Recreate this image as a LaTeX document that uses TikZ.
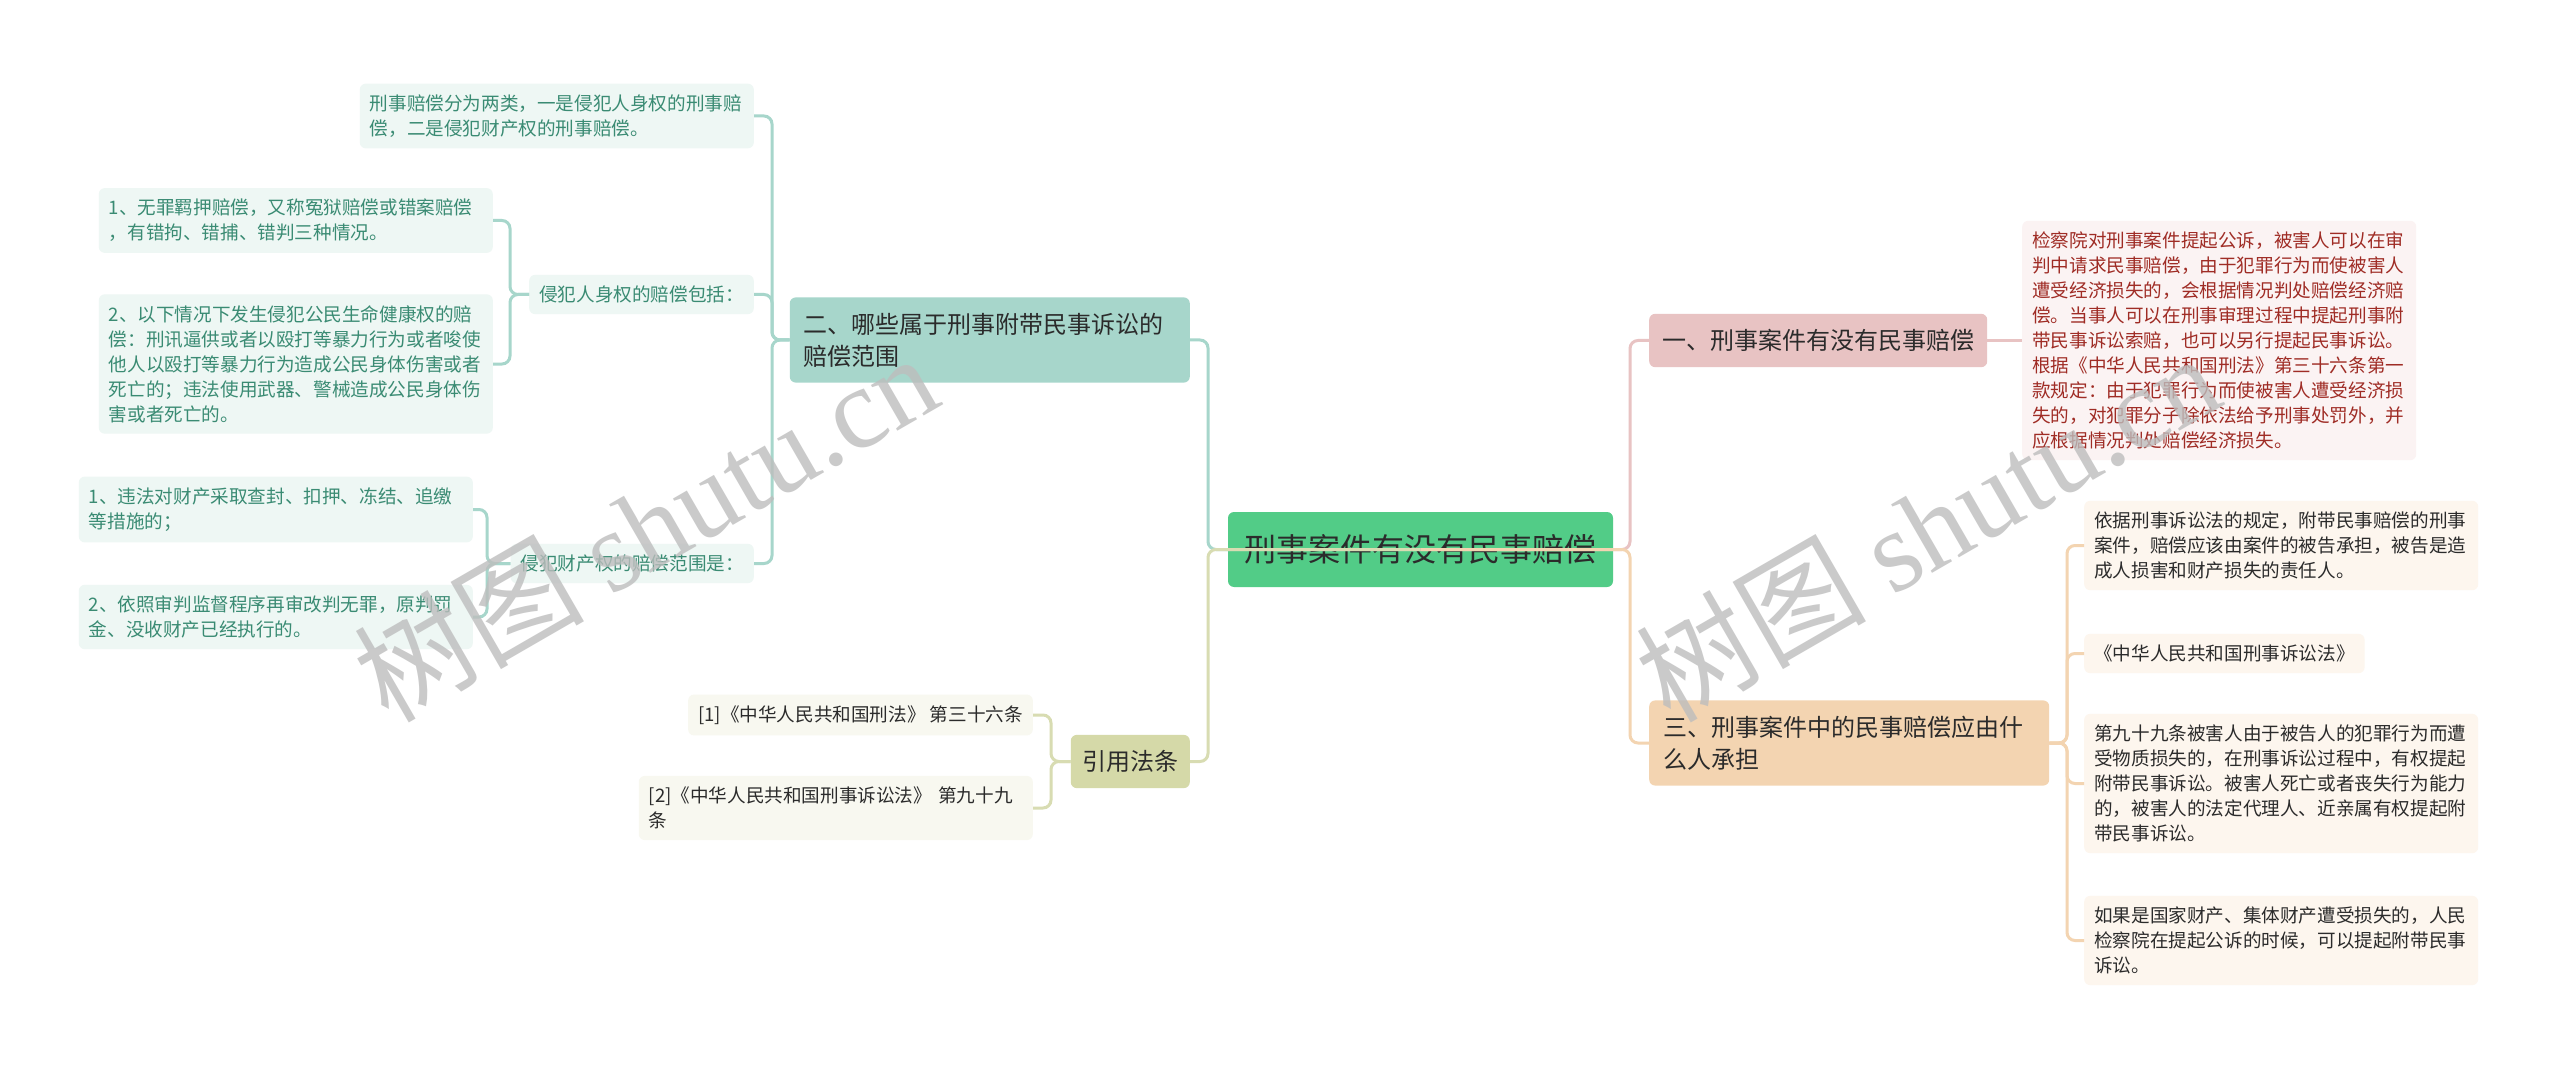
\documentclass[tikz,border=0pt]{standalone}
\usepackage{fontspec}
\setmainfont{Noto Sans CJK SC}
\newfontfamily\wmfont{Liberation Serif}
\usetikzlibrary{positioning}
\definecolor{rootfill}{HTML}{52CC87}
\definecolor{tealfill}{HTML}{A7D6CB}
\definecolor{tealleaf}{HTML}{EEF7F4}
\definecolor{tealtext}{HTML}{3A8B73}
\definecolor{olivefill}{HTML}{D5D9A8}
\definecolor{oliveleaf}{HTML}{F8F8F0}
\definecolor{olivelink}{HTML}{D8DCB2}
\definecolor{pinkfill}{HTML}{E8C3C3}
\definecolor{pinkleaf}{HTML}{FBF3F3}
\definecolor{redtext}{HTML}{9F2C25}
\definecolor{peachfill}{HTML}{F3D4B1}
\definecolor{peachleaf}{HTML}{FDF6EE}
\definecolor{inktext}{HTML}{2B2B2B}
\definecolor{wmgray}{HTML}{BDBDBD}

\begin{document}
\begin{tikzpicture}[x=1pt,y=-1pt,
  rootbox/.style={fill=rootfill,rounded corners=6,text=inktext,font=\fontsize{32}{38}\selectfont,minimum width=385,minimum height=75,inner sep=0},
  secbox/.style={rounded corners=6,text=inktext,align=left,font=\fontsize{24}{32}\selectfont,inner xsep=14,inner ysep=15.5},
  leafbox/.style={rounded corners=6,align=left,font=\fontsize{18.6}{25}\selectfont,inner xsep=10,inner ysep=11},
  wideleaf/.style={leafbox,text width=374},
  link/.style={line width=3,rounded corners=8},
  wmark/.style={rotate=30,text=wmgray,text opacity=0.8,font=\fontsize{115}{115}\selectfont}]
  \fill[white] (0,0) rectangle (2560,1067);
  \useasboundingbox (0,0) rectangle (2560,1067);

  % centre
  \node[rootbox] (root) at (1420.5,549.5) {刑事案件有没有民事赔偿};

  % left: compensation range
  \node[secbox,fill=tealfill,anchor=east,text width=372] (two) at (1190,340) {二、哪些属于刑事附带民事诉讼的\\赔偿范围};
  \node[wideleaf,fill=tealleaf,text=tealtext,anchor=east] (lA) at (754,116) {刑事赔偿分为两类，一是侵犯人身权的刑事赔\\偿，二是侵犯财产权的刑事赔偿。};
  \node[leafbox,fill=tealleaf,text=tealtext,anchor=east] (subB) at (754,294.5) {侵犯人身权的赔偿包括：};
  \node[leafbox,fill=tealleaf,text=tealtext,anchor=east] (subC) at (754,563.5) {侵犯财产权的赔偿范围是：};
  \node[wideleaf,fill=tealleaf,text=tealtext,anchor=east] (lB1) at (493,220.5) {1、无罪羁押赔偿，又称冤狱赔偿或错案赔偿\\，有错拘、错捕、错判三种情况。};
  \node[wideleaf,fill=tealleaf,text=tealtext,anchor=east] (lB2) at (493,364) {2、以下情况下发生侵犯公民生命健康权的赔\\偿：刑讯逼供或者以殴打等暴力行为或者唆使\\他人以殴打等暴力行为造成公民身体伤害或者\\死亡的；违法使用武器、警械造成公民身体伤\\害或者死亡的。};
  \node[wideleaf,fill=tealleaf,text=tealtext,anchor=east] (lC1) at (473,509.5) {1、违法对财产采取查封、扣押、冻结、追缴\\等措施的；};
  \node[wideleaf,fill=tealleaf,text=tealtext,anchor=east] (lC2) at (473,617) {2、依照审判监督程序再审改判无罪，原判罚\\金、没收财产已经执行的。};

  % left: cited articles
  \node[secbox,fill=olivefill,anchor=east,inner xsep=11.5] (cite) at (1190,761.5) {引用法条};
  \node[leafbox,fill=oliveleaf,text=inktext,anchor=east] (r1) at (1033,715) {[1]《中华人民共和国刑法》 第三十六条};
  \node[wideleaf,fill=oliveleaf,text=inktext,anchor=east] (r2) at (1033,808) {[2]《中华人民共和国刑事诉讼法》 第九十九\\条};

  % right: is there civil compensation
  \node[secbox,fill=pinkfill,anchor=west,inner xsep=13] (one) at (1649,340.5) {一、刑事案件有没有民事赔偿};
  \node[wideleaf,fill=pinkleaf,text=redtext,anchor=west] (red) at (2022,340.5) {检察院对刑事案件提起公诉，被害人可以在审\\判中请求民事赔偿，由于犯罪行为而使被害人\\遭受经济损失的，会根据情况判处赔偿经济赔\\偿。当事人可以在刑事审理过程中提起刑事附\\带民事诉讼索赔，也可以另行提起民事诉讼。\\根据《中华人民共和国刑法》第三十六条第一\\款规定：由于犯罪行为而使被害人遭受经济损\\失的，对犯罪分子除依法给予刑事处罚外，并\\应根据情况判处赔偿经济损失。};

  % right: who bears it
  \node[secbox,fill=peachfill,anchor=west,text width=372] (three) at (1649,743) {三、刑事案件中的民事赔偿应由什\\么人承担};
  \node[wideleaf,fill=peachleaf,text=inktext,anchor=west] (rt1) at (2084,545.5) {依据刑事诉讼法的规定，附带民事赔偿的刑事\\案件，赔偿应该由案件的被告承担，被告是造\\成人损害和财产损失的责任人。};
  \node[leafbox,fill=peachleaf,text=inktext,anchor=west] (rt2) at (2084,653.5) {《中华人民共和国刑事诉讼法》};
  \node[wideleaf,fill=peachleaf,text=inktext,anchor=west] (rt3) at (2084,783.5) {第九十九条被害人由于被告人的犯罪行为而遭\\受物质损失的，在刑事诉讼过程中，有权提起\\附带民事诉讼。被害人死亡或者丧失行为能力\\的，被害人的法定代理人、近亲属有权提起附\\带民事诉讼。};
  \node[wideleaf,fill=peachleaf,text=inktext,anchor=west] (rt4) at (2084,940.5) {如果是国家财产、集体财产遭受损失的，人民\\检察院在提起公诉的时候，可以提起附带民事\\诉讼。};

  % links
  \foreach \n in {lA,subB,subC}
    \draw[link,tealfill] (\n.east) -- ++(18,0) |- (two.west);
  \foreach \n in {lB1,lB2}
    \draw[link,tealfill] (\n.east) -- ++(17,0) |- (subB.west);
  \foreach \n in {lC1,lC2}
    \draw[link,tealfill] (\n.east) -- ++(14,0) |- (subC.west);
  \foreach \n in {r1,r2}
    \draw[link,olivelink] (\n.east) -- ++(18,0) |- (cite.west);
  \draw[link,tealfill] (two.east) -- ++(18,0) |- (root.center);
  \draw[link,olivelink] (cite.east) -- ++(18,0) |- (root.center);
  \draw[link,pinkfill] (one.west) -- ++(-19,0) |- (root.center);
  \draw[link,peachfill] (three.west) -- ++(-19,0) |- (root.center);
  \draw[link,pinkfill] (one.east) -- (red.west);
  \foreach \n in {rt1,rt2,rt3,rt4}
    \draw[link,peachfill] (\n.west) -- ++(-17,0) |- (three.east);

  % watermark
  \node[wmark] (wmL) at (645,526) {树图 {\wmfont shutu.cn}};
  \node[wmark] (wmR) at (1927,526) {树图 {\wmfont shutu.cn}};
\end{tikzpicture}
\end{document}
